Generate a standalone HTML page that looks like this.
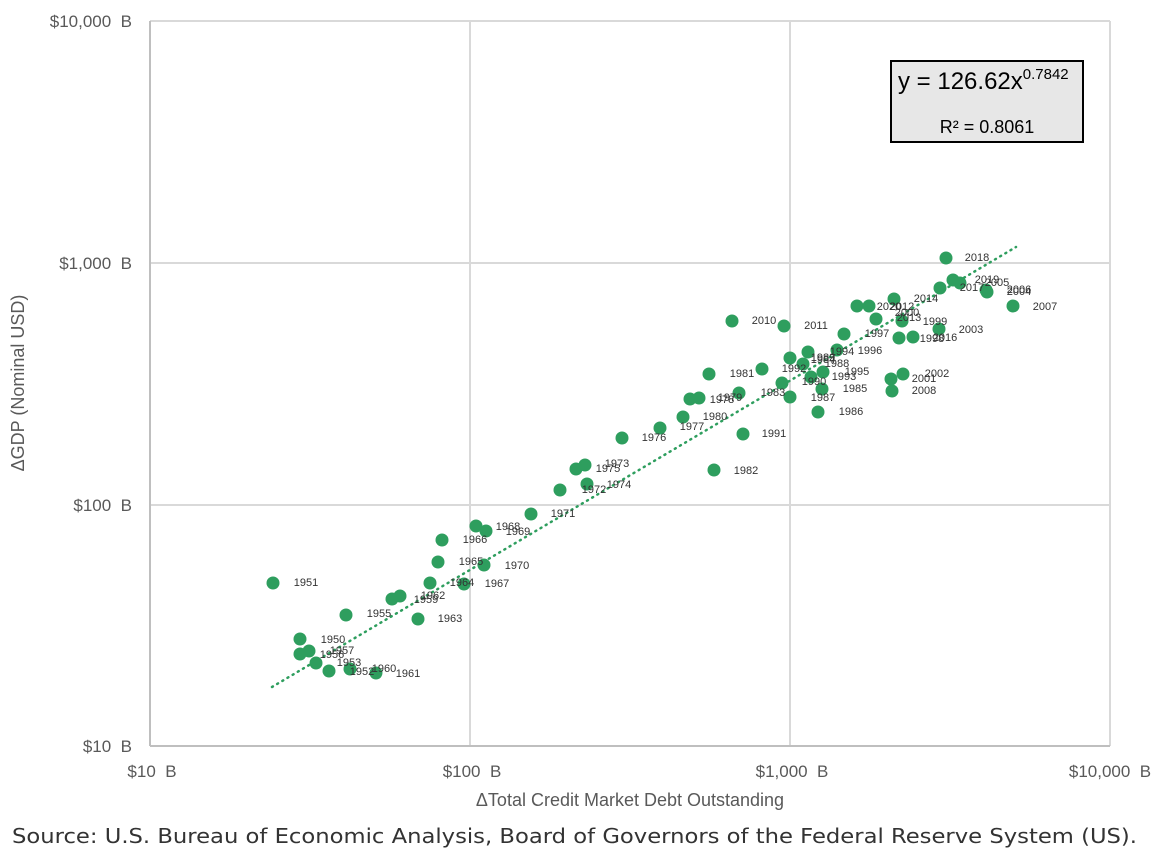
<!DOCTYPE html>
<html><head><meta charset="utf-8"><style>
html,body{margin:0;padding:0;background:#fff;}
svg{display:block;}
text{white-space:pre;}
</style></head><body>
<svg width="1172" height="859" xmlns="http://www.w3.org/2000/svg" font-family="Liberation Sans, sans-serif">
<rect width="1172" height="859" fill="#fff"/>
<g stroke="#d9d9d9" stroke-width="2" fill="none">
<line x1="150" y1="21" x2="1110" y2="21"/>
<line x1="150" y1="263" x2="1110" y2="263"/>
<line x1="150" y1="505" x2="1110" y2="505"/>
<line x1="470" y1="21" x2="470" y2="746"/>
<line x1="790" y1="21" x2="790" y2="746"/>
<line x1="1110" y1="21" x2="1110" y2="746"/>
<line x1="150" y1="21" x2="150" y2="746" stroke="#bfbfbf"/>
<line x1="150" y1="746" x2="1110" y2="746" stroke="#bfbfbf"/>
</g>
<g fill="#595959" font-size="17" text-anchor="end">
<text x="132" y="27">$10,000&#160;&#160;B</text>
<text x="132" y="269">$1,000&#160;&#160;B</text>
<text x="132" y="511">$100&#160;&#160;B</text>
<text x="132" y="752">$10&#160;&#160;B</text>
</g>
<g fill="#595959" font-size="17" text-anchor="middle">
<text x="152" y="777">$10&#160;&#160;B</text>
<text x="472" y="777">$100&#160;&#160;B</text>
<text x="792" y="777">$1,000&#160;&#160;B</text>
<text x="1110" y="777">$10,000&#160;&#160;B</text>
<text x="630" y="806" font-size="18">ΔTotal Credit Market Debt Outstanding</text>
<text transform="translate(24,383) rotate(-90)" font-size="18">ΔGDP (Nominal USD)</text>
</g>
<line x1="272" y1="687" x2="1016" y2="247" stroke="#2e9e5e" stroke-width="2.5" stroke-dasharray="1,5" stroke-linecap="round"/>
<g fill="#2e9e5e">
<circle cx="273" cy="583" r="6.5"/><circle cx="300" cy="639" r="6.5"/><circle cx="300" cy="654" r="6.5"/><circle cx="309" cy="651" r="6.5"/><circle cx="316" cy="663" r="6.5"/><circle cx="329" cy="671" r="6.5"/><circle cx="350" cy="669" r="6.5"/><circle cx="376" cy="673" r="6.5"/>
<circle cx="346" cy="615" r="6.5"/><circle cx="392" cy="599" r="6.5"/><circle cx="400" cy="596" r="6.5"/><circle cx="418" cy="619" r="6.5"/><circle cx="430" cy="583" r="6.5"/><circle cx="464" cy="584" r="6.5"/><circle cx="438" cy="562" r="6.5"/><circle cx="484" cy="565" r="6.5"/><circle cx="442" cy="540" r="6.5"/><circle cx="476" cy="526" r="6.5"/><circle cx="486" cy="531" r="6.5"/>
<circle cx="531" cy="514" r="6.5"/><circle cx="560" cy="490" r="6.5"/><circle cx="587" cy="484" r="6.5"/><circle cx="576" cy="469" r="6.5"/><circle cx="585" cy="465" r="6.5"/><circle cx="622" cy="438" r="6.5"/><circle cx="660" cy="428" r="6.5"/><circle cx="683" cy="417" r="6.5"/><circle cx="690" cy="399" r="6.5"/><circle cx="699" cy="398" r="6.5"/><circle cx="739" cy="393" r="6.5"/><circle cx="709" cy="374" r="6.5"/><circle cx="714" cy="470" r="6.5"/><circle cx="743" cy="434" r="6.5"/>
<circle cx="732" cy="321" r="6.5"/><circle cx="784" cy="326" r="6.5"/><circle cx="844" cy="334" r="6.5"/><circle cx="857" cy="306" r="6.5"/><circle cx="869" cy="306" r="6.5"/><circle cx="876" cy="319" r="6.5"/><circle cx="894" cy="299" r="6.5"/><circle cx="902" cy="321" r="6.5"/><circle cx="899" cy="338" r="6.5"/><circle cx="913" cy="337" r="6.5"/><circle cx="939" cy="329" r="6.5"/><circle cx="940" cy="288" r="6.5"/><circle cx="953" cy="280" r="6.5"/><circle cx="960" cy="283" r="6.5"/><circle cx="986" cy="290" r="6.5"/><circle cx="987" cy="292" r="6.5"/><circle cx="1013" cy="306" r="6.5"/><circle cx="946" cy="258" r="6.5"/><circle cx="891" cy="379" r="6.5"/><circle cx="903" cy="374" r="6.5"/><circle cx="892" cy="391" r="6.5"/><circle cx="837" cy="350" r="6.5"/><circle cx="808" cy="352" r="6.5"/><circle cx="790" cy="358" r="6.5"/><circle cx="803" cy="364" r="6.5"/><circle cx="823" cy="372" r="6.5"/><circle cx="811" cy="377" r="6.5"/><circle cx="782" cy="383" r="6.5"/><circle cx="822" cy="389" r="6.5"/><circle cx="790" cy="397" r="6.5"/><circle cx="818" cy="412" r="6.5"/><circle cx="762" cy="369" r="6.5"/>
</g>
<g fill="#333" font-size="11" text-anchor="middle" dominant-baseline="central">
<text x="306" y="583">1951</text><text x="475" y="540">1966</text><text x="508" y="527">1968</text><text x="518" y="532">1969</text><text x="471" y="562">1965</text><text x="517" y="566">1970</text><text x="462" y="583">1964</text><text x="497" y="584">1967</text><text x="433" y="596">1962</text><text x="426" y="600">1959</text><text x="379" y="614">1955</text><text x="450" y="619">1963</text><text x="333" y="640">1950</text><text x="342" y="651">1957</text><text x="332" y="655">1956</text><text x="349" y="663">1953</text><text x="362" y="672">1952</text><text x="384" y="669">1960</text><text x="408" y="674">1961</text>
<text x="742" y="374">1981</text><text x="722" y="400">1978</text><text x="730" y="398">1979</text><text x="715" y="417">1980</text><text x="692" y="427">1977</text><text x="654" y="438">1976</text><text x="617" y="464">1973</text><text x="608" y="469">1975</text><text x="619" y="485">1974</text><text x="594" y="490">1972</text><text x="563" y="514">1971</text><text x="746" y="471">1982</text>
<text x="764" y="321">2010</text><text x="816" y="326">2011</text><text x="877" y="334">1997</text><text x="889" y="307">2020</text><text x="902" y="307">2012</text><text x="907" y="313">2000</text><text x="909" y="318">2013</text><text x="926" y="299">2014</text><text x="977" y="258">2018</text><text x="987" y="280">2019</text><text x="972" y="288">2017</text><text x="997" y="283">2005</text><text x="1019" y="290">2006</text><text x="1019" y="292">2004</text><text x="1045" y="307">2007</text><text x="935" y="322">1999</text><text x="971" y="330">2003</text><text x="932" y="339">1998</text><text x="945" y="338">2016</text><text x="937" y="374">2002</text><text x="924" y="379">2001</text><text x="924" y="391">2008</text><text x="870" y="351">1996</text><text x="842" y="352">1994</text><text x="823" y="358">1989</text><text x="823" y="360">1984</text><text x="837" y="364">1988</text><text x="794" y="369">1992</text><text x="857" y="372">1995</text><text x="844" y="377">1993</text><text x="814" y="382">1990</text><text x="855" y="389">1985</text><text x="823" y="398">1987</text><text x="851" y="412">1986</text><text x="773" y="393">1983</text><text x="774" y="434">1991</text>
</g>
<rect x="891" y="61" width="192" height="81" fill="#e7e7e7" stroke="#000" stroke-width="2"/>
<text x="898" y="89" font-size="24" fill="#000">y = 126.62x<tspan font-size="15" dy="-10">0.7842</tspan></text>
<text x="987" y="133" font-size="18" fill="#000" text-anchor="middle">R² = 0.8061</text>
<text x="12" y="843" font-family="DejaVu Sans, sans-serif" font-size="20" fill="#333" textLength="1125" lengthAdjust="spacingAndGlyphs">Source: U.S. Bureau of Economic Analysis, Board of Governors of the Federal Reserve System (US).</text>
</svg>
</body></html>
